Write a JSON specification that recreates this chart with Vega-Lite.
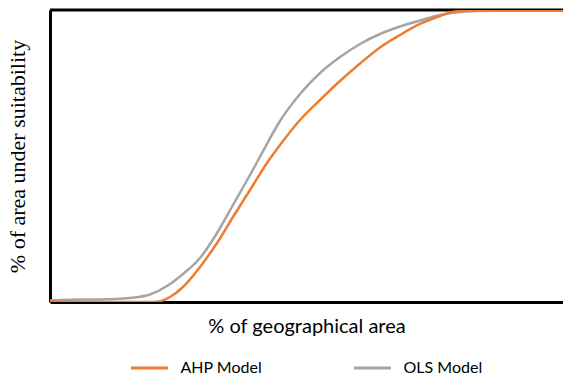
{
  "$schema": "https://vega.github.io/schema/vega-lite/v6.json",
  "width": 513,
  "height": 292,
  "autosize": "none",
  "padding": {"left": 50, "top": 10, "right": 0, "bottom": 72},
  "background": "white",
  "config": {"view": {"stroke": null}},
  "datasets": {
    "curves": [
      {"x": 0, "y": 0.51, "model": "OLS Model"},
      {"x": 3.85, "y": 0.79, "model": "OLS Model"},
      {"x": 9.62, "y": 0.86, "model": "OLS Model"},
      {"x": 15.38, "y": 1.37, "model": "OLS Model"},
      {"x": 19.23, "y": 2.57, "model": "OLS Model"},
      {"x": 22.5, "y": 5.48, "model": "OLS Model"},
      {"x": 25.58, "y": 9.59, "model": "OLS Model"},
      {"x": 28.85, "y": 15.07, "model": "OLS Model"},
      {"x": 32.12, "y": 23.63, "model": "OLS Model"},
      {"x": 35.19, "y": 33.22, "model": "OLS Model"},
      {"x": 38.46, "y": 43.49, "model": "OLS Model"},
      {"x": 40.77, "y": 51.03, "model": "OLS Model"},
      {"x": 44.23, "y": 61.99, "model": "OLS Model"},
      {"x": 48.08, "y": 71.23, "model": "OLS Model"},
      {"x": 51.92, "y": 78.42, "model": "OLS Model"},
      {"x": 55.77, "y": 83.9, "model": "OLS Model"},
      {"x": 59.62, "y": 88.36, "model": "OLS Model"},
      {"x": 63.46, "y": 91.78, "model": "OLS Model"},
      {"x": 67.31, "y": 94.35, "model": "OLS Model"},
      {"x": 71.15, "y": 96.4, "model": "OLS Model"},
      {"x": 75, "y": 98.29, "model": "OLS Model"},
      {"x": 78.85, "y": 99.32, "model": "OLS Model"},
      {"x": 82.69, "y": 99.7, "model": "OLS Model"},
      {"x": 86.54, "y": 99.85, "model": "OLS Model"},
      {"x": 100, "y": 99.85, "model": "OLS Model"},
      {"x": 0, "y": 0.34, "model": "AHP Model"},
      {"x": 5.77, "y": 0.0, "model": "AHP Model"},
      {"x": 13.46, "y": 0.0, "model": "AHP Model"},
      {"x": 19.23, "y": 0.0, "model": "AHP Model"},
      {"x": 20.58, "y": 0.1, "model": "AHP Model"},
      {"x": 23.08, "y": 1.71, "model": "AHP Model"},
      {"x": 25.58, "y": 5.14, "model": "AHP Model"},
      {"x": 28.85, "y": 11.99, "model": "AHP Model"},
      {"x": 32.12, "y": 20.21, "model": "AHP Model"},
      {"x": 35.19, "y": 29.11, "model": "AHP Model"},
      {"x": 38.46, "y": 38.36, "model": "AHP Model"},
      {"x": 41.73, "y": 47.6, "model": "AHP Model"},
      {"x": 44.23, "y": 53.77, "model": "AHP Model"},
      {"x": 48.08, "y": 62.33, "model": "AHP Model"},
      {"x": 51.92, "y": 69.18, "model": "AHP Model"},
      {"x": 55.77, "y": 75.68, "model": "AHP Model"},
      {"x": 59.62, "y": 81.68, "model": "AHP Model"},
      {"x": 63.46, "y": 87.16, "model": "AHP Model"},
      {"x": 67.31, "y": 91.44, "model": "AHP Model"},
      {"x": 71.15, "y": 95.21, "model": "AHP Model"},
      {"x": 75, "y": 97.95, "model": "AHP Model"},
      {"x": 77.88, "y": 99.49, "model": "AHP Model"},
      {"x": 81.73, "y": 99.83, "model": "AHP Model"},
      {"x": 100, "y": 99.85, "model": "AHP Model"}
    ]
  },
  "layer": [
    {
      "data": {"values": [{}]},
      "mark": {"type": "rule", "color": "black", "strokeWidth": 3},
      "encoding": {
        "y": {"datum": 100, "type": "quantitative"}
      }
    },
    {
      "data": {"name": "curves"},
      "mark": {"type": "line", "strokeWidth": 2.5, "interpolate": "monotone", "clip": true},
      "encoding": {
        "x": {
          "field": "x", "type": "quantitative",
          "scale": {"domain": [0, 98.65], "nice": false, "zero": false},
          "axis": {
            "title": "% of geographical area",
            "titleFont": "Lato", "titleFontSize": 20, "titleFontWeight": "normal", "titleColor": "black",
            "titlePadding": 14,
            "domain": true, "domainColor": "black", "domainWidth": 3,
            "ticks": false, "labels": false, "grid": false
          }
        },
        "y": {
          "field": "y", "type": "quantitative",
          "scale": {"domain": [0, 100], "nice": false},
          "axis": {
            "title": "% of area under suitability",
            "titleFont": "Liberation Serif", "titleFontSize": 22, "titleFontWeight": "normal", "titleColor": "black",
            "titlePadding": 21,
            "domain": true, "domainColor": "black", "domainWidth": 3,
            "ticks": false, "labels": false, "grid": false
          }
        },
        "color": {
          "field": "model", "type": "nominal",
          "scale": {"domain": ["AHP Model", "OLS Model"], "range": ["#ED7D31", "#A5A5A5"]},
          "legend": {
            "title": null, "orient": "none", "legendX": 79.5, "legendY": 338,
            "direction": "horizontal", "columns": 2,
            "symbolType": "stroke", "symbolSize": 1369, "symbolStrokeWidth": 3,
            "labelFont": "Lato", "labelFontSize": 16, "labelColor": "black", "labelOffset": 11,
            "columnPadding": 85
          }
        }
      }
    }
  ]
}
